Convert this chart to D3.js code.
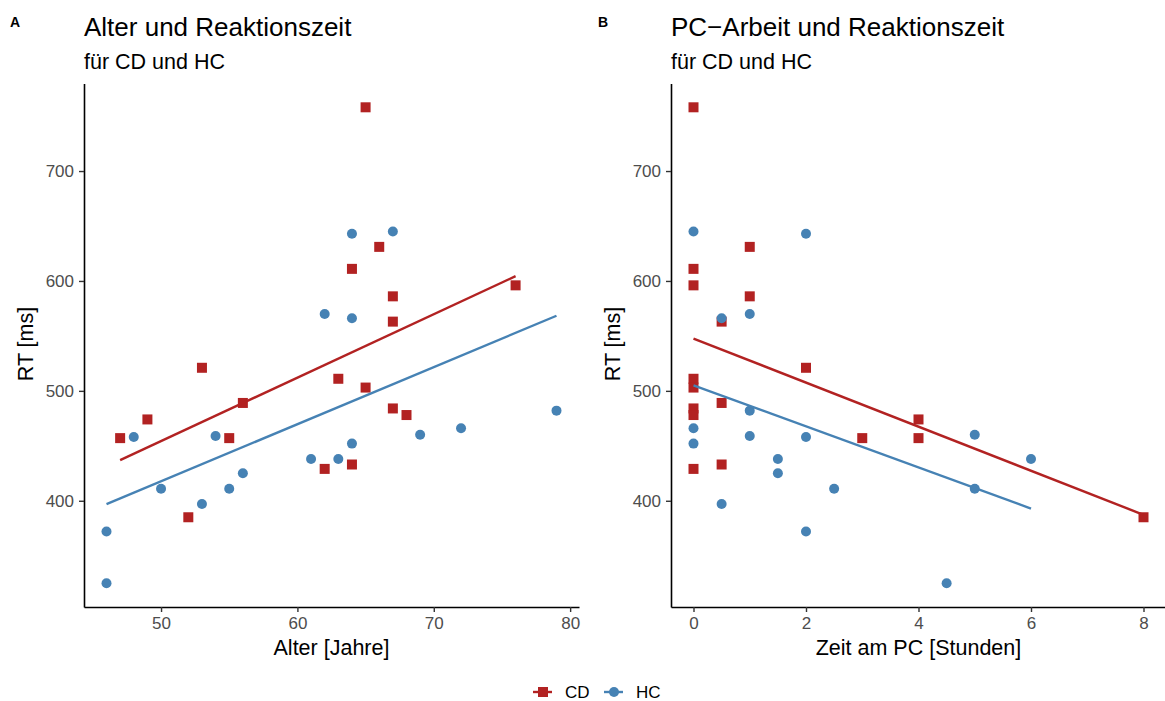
<!DOCTYPE html>
<html>
<head>
<meta charset="utf-8">
<script src="https://cdn.jsdelivr.net/npm/d3@7"></script>
<style>
  body { margin: 0; background: #fff; }
  svg { font-family: "Liberation Sans", Arial, sans-serif; }
</style>
</head>
<body>
<script>
// Data: one entry per subject, RT [ms], age [years], hours at PC
var groups = ["CD", "HC"];
var cdRT    = [758, 631, 611, 596, 586, 563, 521, 511, 503, 489, 484, 478, 474, 457, 457, 433, 429, 385];
var cdAge   = [65, 66, 64, 76, 67, 67, 53, 63, 65, 56, 67, 68, 49, 47, 55, 64, 62, 52];
var cdHours = [0, 1, 0, 0, 1, 0.5, 2, 0, 0, 0.5, 0, 0, 4, 3, 4, 0.5, 0, 8];
var hcRT    = [645, 643, 570, 566, 482, 466, 460, 459, 458, 452, 438, 438, 425, 411, 411, 397, 372, 325];
var hcAge   = [67, 64, 62, 64, 79, 72, 69, 54, 48, 64, 61, 63, 56, 50, 55, 53, 46, 46];
var hcHours = [0, 2, 1, 0.5, 1, 0, 5, 1, 2, 0, 1.5, 6, 1.5, 2.5, 5, 0.5, 2, 4.5];
var yTicks = [400, 500, 600, 700];
var ageTicks = [50, 60, 70, 80];
var hourTicks = [0, 2, 4, 6, 8];

var colors = { CD: "#B22222", HC: "#4682B4" };

var width = 1165, height = 701;
var svg = d3.select("body").append("svg")
    .attr("width", width)
    .attr("height", height);

function toPoints(xs, ys){
    return xs.map(function(x, i){ return { x: x, y: ys[i] }; });
}

// least squares fit, returned as segment over the data range
function fitLine(pts){
    var mx = d3.mean(pts, d => d.x), my = d3.mean(pts, d => d.y);
    var sxy = d3.sum(pts, d => (d.x - mx) * (d.y - my));
    var sxx = d3.sum(pts, d => (d.x - mx) * (d.x - mx));
    var b = sxy / sxx, a = my - b * mx;
    var ext = d3.extent(pts, d => d.x);
    return [{ x: ext[0], y: a + b * ext[0] }, { x: ext[1], y: a + b * ext[1] }];
}

var allRT = cdRT.concat(hcRT);

function padded(ext){
    var p = (ext[1] - ext[0]) * 0.05;
    return [ext[0] - p, ext[1] + p];
}

function drawPanel(opt){
    var g = svg.append("g");
    var x = d3.scaleLinear().domain(padded(d3.extent(opt.xAll))).range([opt.left, opt.right]);
    var y = d3.scaleLinear().domain(padded(d3.extent(allRT))).range([607, 83.5]);

    // tag
    g.append("text").attr("x", opt.tagX).attr("y", 27)
        .attr("font-size", 14).attr("font-weight", "bold").text(opt.tag);
    // title + subtitle
    g.append("text").attr("x", opt.left).attr("y", 36)
        .attr("font-size", 26).attr("fill", "#000").text(opt.title);
    g.append("text").attr("x", opt.left).attr("y", 69)
        .attr("font-size", 21.5).attr("fill", "#000").text("für CD und HC");

    // axes
    var xAxis = g.append("g").attr("transform", "translate(0,607)")
        .call(d3.axisBottom(x).tickValues(opt.xTicks).tickSize(5).tickSizeOuter(0).tickPadding(5));
    var yAxis = g.append("g").attr("transform", "translate(" + opt.left + ",0)")
        .call(d3.axisLeft(y).tickValues(yTicks).tickSize(5).tickSizeOuter(0).tickPadding(5));
    [xAxis, yAxis].forEach(function(ax){
        ax.select(".domain").attr("stroke", "#000").attr("stroke-width", 1.6);
        ax.selectAll(".tick line").attr("stroke", "#333").attr("stroke-width", 1.4);
        ax.selectAll(".tick text").attr("fill", "#4d4d4d").attr("font-size", 17)
            .attr("font-family", "Liberation Sans, Arial, sans-serif");
    });

    // axis titles
    g.append("text").attr("x", (opt.left + opt.right) / 2).attr("y", 655)
        .attr("text-anchor", "middle").attr("font-size", 21.5).text(opt.xLabel);
    g.append("text")
        .attr("transform", "translate(" + (opt.left - 51) + ",344) rotate(-90)")
        .attr("text-anchor", "middle").attr("font-size", 21.5).text("RT [ms]");

    var line = d3.line().x(d => x(d.x)).y(d => y(d.y));

    groups.forEach(function(grp){
        var pts = opt.data[grp];
        if (grp === "CD") {
            g.append("g").selectAll("rect").data(pts).enter().append("rect")
                .attr("x", d => x(d.x) - 5).attr("y", d => y(d.y) - 5)
                .attr("width", 10).attr("height", 10)
                .attr("fill", colors.CD);
        } else {
            g.append("g").selectAll("circle").data(pts).enter().append("circle")
                .attr("cx", d => x(d.x)).attr("cy", d => y(d.y)).attr("r", 5)
                .attr("fill", colors.HC);
        }
    });
    groups.forEach(function(grp){
        g.append("path").datum(fitLine(opt.data[grp]))
            .attr("d", line).attr("fill", "none")
            .attr("stroke", colors[grp]).attr("stroke-width", 2.4);
    });
}

drawPanel({
    tag: "A", tagX: 10, title: "Alter und Reaktionszeit", xLabel: "Alter [Jahre]",
    left: 84, right: 579, xTicks: ageTicks, xAll: cdAge.concat(hcAge),
    data: { CD: toPoints(cdAge, cdRT), HC: toPoints(hcAge, hcRT) }
});
drawPanel({
    tag: "B", tagX: 598, title: "PC\u2212Arbeit und Reaktionszeit", xLabel: "Zeit am PC [Stunden]",
    left: 671, right: 1166, xTicks: hourTicks, xAll: cdHours.concat(hcHours),
    data: { CD: toPoints(cdHours, cdRT), HC: toPoints(hcHours, hcRT) }
});

// legend
var legend = svg.append("g").attr("transform", "translate(0,692)");
var items = [
    { key: "CD", x: 533 },
    { key: "HC", x: 604 }
];
items.forEach(function(it){
    legend.append("line").attr("x1", it.x).attr("x2", it.x + 19)
        .attr("stroke", colors[it.key]).attr("stroke-width", 2.4);
    if (it.key === "CD") {
        legend.append("rect").attr("x", it.x + 5).attr("y", -5)
            .attr("width", 10).attr("height", 10).attr("fill", colors.CD);
    } else {
        legend.append("circle").attr("cx", it.x + 10).attr("r", 5).attr("fill", colors.HC);
    }
    legend.append("text").attr("x", it.x + 32).attr("y", 6)
        .attr("font-size", 17).text(it.key);
});
</script>
</body>
</html>
